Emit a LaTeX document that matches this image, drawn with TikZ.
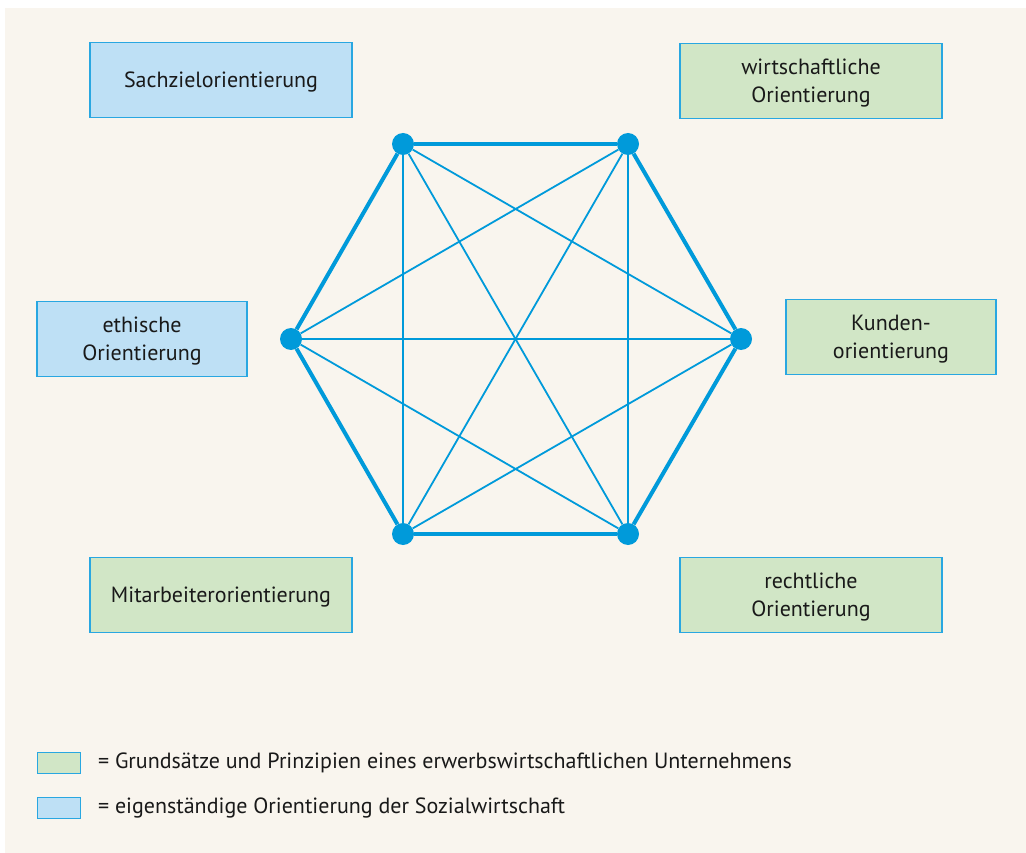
\documentclass[tikz,border=0pt]{standalone}
\usepackage{fontspec}
\setmainfont{PT Sans}
\usetikzlibrary{positioning}
\definecolor{bgbeige}{RGB}{249,245,238}
\definecolor{hexblue}{RGB}{0,154,218}
\definecolor{boxline}{RGB}{41,167,225}
\definecolor{bluefill}{RGB}{190,224,245}
\definecolor{greenfill}{RGB}{209,230,198}
\tikzset{
every node/.style={font=\fontsize{22}{28}\selectfont, text=black!90}, % text of all boxes
orient/.style={draw=boxline, line width=1.2pt, minimum width=262pt, minimum height=75pt, align=center, inner sep=0pt, text depth=0pt},
blue box/.style={orient, fill=bluefill}, % own orientation of the social economy
green box/.style={orient, fill=greenfill}, % principles of a commercial enterprise
small box/.style={minimum width=43pt, minimum height=21pt, line width=1pt},
corner/.style={circle, fill=hexblue, minimum size=22pt, inner sep=0pt},
rim/.style={line width=4pt, draw=hexblue}, % outer hexagon
spoke/.style={line width=1.8pt, draw=hexblue}, % inner connections
}
\begin{document}
\begin{tikzpicture}[x=1pt, y=-1pt]
\useasboundingbox (0,0) rectangle (1026,853);
\fill[bgbeige] (5,8) rectangle (1026,853);
% orientations
\node[blue box] (sach) at (221,80) {Sachzielorientierung};
\node[green box] (wirt) at (811,81) {wirtschaftliche\\Orientierung};
\node[blue box, minimum width=210pt] (eth) at (142,339) {ethische\\Orientierung};
\node[green box, minimum width=210pt] (kund) at (891,337) {Kunden-\\orientierung};
\node[green box] (mitarb) at (221,595) {Mitarbeiterorientierung};
\node[green box] (recht) at (811,595) {rechtliche\\Orientierung};
% hexagon
\node[corner] (h1) at (403,144) {};
\node[corner] (h2) at (628,144) {};
\node[corner] (h3) at (741,339) {};
\node[corner] (h4) at (628,534) {};
\node[corner] (h5) at (403,534) {};
\node[corner] (h6) at (291,339) {};
\path[rim]
(h1) edge (h2)
(h2) edge (h3)
(h3) edge (h4)
(h4) edge (h5)
(h5) edge (h6)
(h6) edge (h1)
;
\path[spoke]
(h1) edge (h3)
(h1) edge (h4)
(h1) edge (h5)
(h2) edge (h4)
(h2) edge (h5)
(h2) edge (h6)
(h3) edge (h5)
(h3) edge (h6)
(h4) edge (h6)
;
% legend
\node[green box, small box] (leggreen) at (58.5,762.5) {};
\node[blue box, small box] (legblue) at (58.5,807.5) {};
\node[right=14pt of leggreen] (legtext1) {= Grundsätze und Prinzipien eines erwerbswirtschaftlichen Unternehmens};
\node[right=14pt of legblue] (legtext2) {= eigenständige Orientierung der Sozialwirtschaft};
\end{tikzpicture}
\end{document}
